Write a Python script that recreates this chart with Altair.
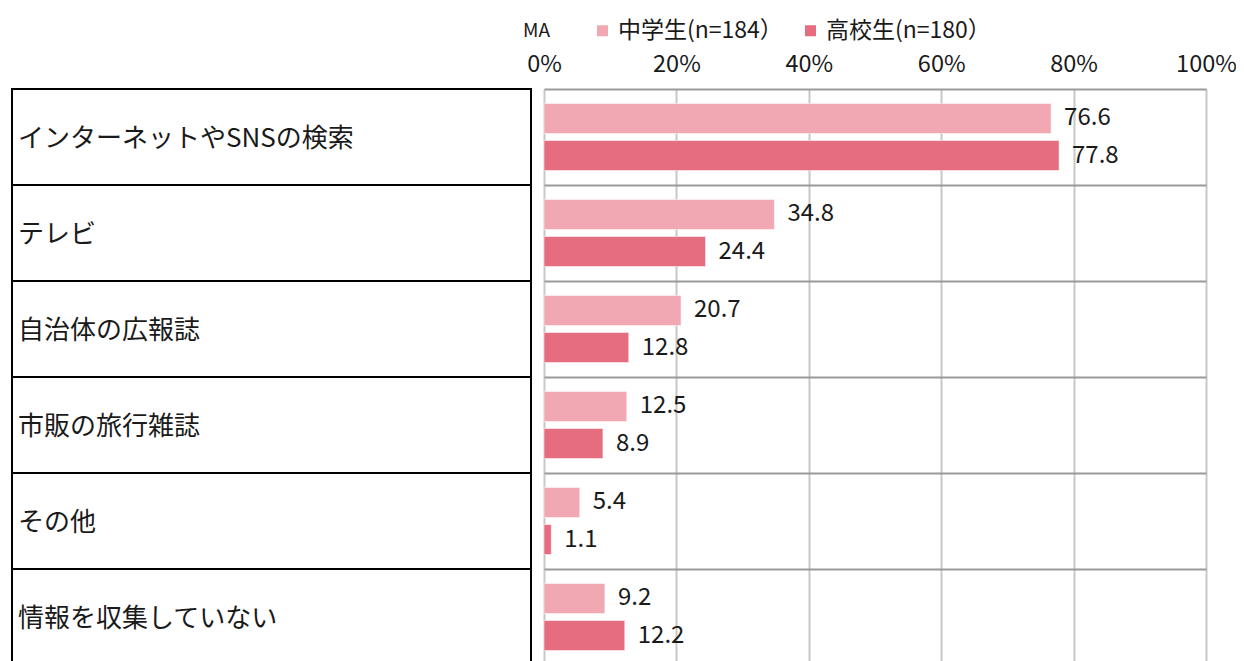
import altair as alt
import pandas as pd

categories = ["インターネットやSNSの検索", "テレビ", "自治体の広報誌", "市販の旅行雑誌", "その他", "情報を収集していない"]
series = ["中学生(n=184）", "高校生(n=180）"]
jhs_values = [76.6, 34.8, 20.7, 12.5, 5.4, 9.2]
hs_values = [77.8, 24.4, 12.8, 8.9, 1.1, 12.2]
tick_values = [0, 20, 40, 60, 80, 100]
colors = ["#F1A8B3", "#E66D7F"]

FONT = "Noto Sans CJK JP"

rows = []
for c, a, b in zip(categories, jhs_values, hs_values):
    rows.append({"category": c, "series": series[0], "value": a})
    rows.append({"category": c, "series": series[1], "value": b})
df = pd.DataFrame(rows)
cat_df = pd.DataFrame({"category": categories})

y_enc = alt.Y("category:N", sort=categories,
              scale=alt.Scale(paddingInner=0, paddingOuter=0),
              axis=alt.Axis(grid=True, gridColor="#9a9a9a", gridWidth=2, labels=False,
                            ticks=False, domain=False, title=None, bandPosition=0))

yoff = alt.YOffset("series:N", sort=series,
                   scale=alt.Scale(paddingInner=0.19, paddingOuter=0.39))

x_enc = alt.X("value:Q", scale=alt.Scale(domain=[0, 100]),
              axis=alt.Axis(orient="top", values=tick_values, labelExpr="datum.value + '%'",
                            grid=True, gridColor="#c8c8c8", gridWidth=2, ticks=False,
                            domain=False, title=None, labelFontSize=23.5, labelPadding=13,
                            labelFlush=False,
                            labelColor="#1a1a1a", labelFont=FONT))

bars = alt.Chart(df).mark_bar(stroke="white", strokeWidth=0.5).encode(
    x=x_enc,
    y=y_enc,
    yOffset=yoff,
    color=alt.Color("series:N", sort=series,
                    scale=alt.Scale(domain=series, range=colors),
                    legend=alt.Legend(orient="none", legendX=47, legendY=-70,
                                      direction="horizontal", title=None,
                                      symbolType="square", symbolSize=121,
                                      symbolStrokeWidth=0, labelLimit=400,
                                      labelFontSize=23, labelFont=FONT,
                                      labelColor="#1a1a1a", labelOffset=4,
                                      columnPadding=16)),
)

labels = alt.Chart(df).mark_text(align="left", baseline="middle", dx=13,
                                 fontSize=24, font=FONT, color="#1a1a1a").encode(
    x=alt.X("value:Q"),
    y=alt.Y("category:N", sort=categories),
    yOffset=yoff,
    text=alt.Text("value:Q", format=".1f"),
)

boxes = alt.Chart(cat_df).mark_rect(fillOpacity=0, stroke="black", strokeWidth=2).encode(
    x=alt.value(-532), x2=alt.value(-13),
    y=alt.Y("category:N", sort=categories),
)

cat_text = alt.Chart(cat_df).mark_text(align="left", baseline="middle", fontSize=26, dy=2,
                                       font=FONT, color="#1a1a1a").encode(
    x=alt.value(-526),
    y=alt.Y("category:N", sort=categories),
    text="category:N",
)

ma = alt.Chart(pd.DataFrame({"t": ["MA"]})).mark_text(
    align="left", baseline="middle", fontSize=19, font=FONT, color="#1a1a1a").encode(
    x=alt.value(-21), y=alt.value(-58), text="t:N")

chart = alt.layer(boxes, cat_text, bars, labels, ma).properties(
    width=662, height=576,
    autosize=alt.AutoSizeParams(type="none"),
    padding={"left": 536, "top": 81, "right": 30, "bottom": 0},
).configure_view(stroke=None)

chart.save("out.html", embed_options={"renderer": "svg", "actions": False})
